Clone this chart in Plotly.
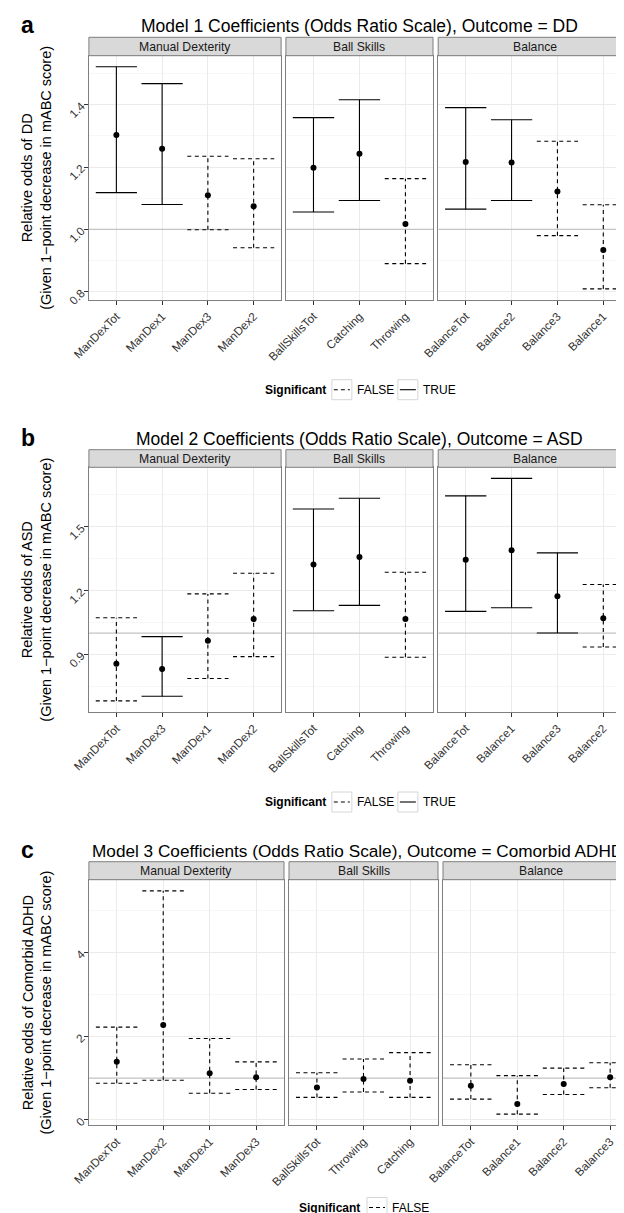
import plotly.graph_objects as go

W, H = 624, 1213
FONT = "Liberation Sans, Arial, Helvetica, sans-serif"

# ---------------- data ----------------
# Panel a: Model 1, Outcome = DD
a_md_cats = ["ManDexTot", "ManDex1", "ManDex3", "ManDex2"]
a_md_or = [1.303, 1.259, 1.110, 1.074]
a_md_lo = [1.118, 1.080, 0.999, 0.941]
a_md_hi = [1.522, 1.468, 1.235, 1.227]
a_md_sig = [True, True, False, False]

a_bs_cats = ["BallSkillsTot", "Catching", "Throwing"]
a_bs_or = [1.198, 1.243, 1.017]
a_bs_lo = [1.056, 1.093, 0.890]
a_bs_hi = [1.359, 1.416, 1.163]
a_bs_sig = [True, True, False]

a_bal_cats = ["BalanceTot", "Balance2", "Balance3", "Balance1"]
a_bal_or = [1.216, 1.215, 1.122, 0.934]
a_bal_lo = [1.065, 1.093, 0.980, 0.809]
a_bal_hi = [1.391, 1.352, 1.283, 1.079]
a_bal_sig = [True, True, False, False]

# Panel b: Model 2, Outcome = ASD
b_md_cats = ["ManDexTot", "ManDex3", "ManDex1", "ManDex2"]
b_md_or = [0.855, 0.831, 0.964, 1.066]
b_md_lo = [0.681, 0.703, 0.786, 0.889]
b_md_hi = [1.072, 0.983, 1.184, 1.281]
b_md_sig = [False, True, False, False]

b_bs_cats = ["BallSkillsTot", "Catching", "Throwing"]
b_bs_or = [1.322, 1.358, 1.066]
b_bs_lo = [1.105, 1.130, 0.886]
b_bs_hi = [1.583, 1.634, 1.286]
b_bs_sig = [True, True, False]

b_bal_cats = ["BalanceTot", "Balance1", "Balance3", "Balance2"]
b_bal_or = [1.345, 1.389, 1.173, 1.069]
b_bal_lo = [1.102, 1.119, 1.000, 0.934]
b_bal_hi = [1.645, 1.727, 1.377, 1.228]
b_bal_sig = [True, True, True, False]

# Panel c: Model 3, Outcome = Comorbid ADHD
c_md_cats = ["ManDexTot", "ManDex2", "ManDex1", "ManDex3"]
c_md_or = [1.39, 2.27, 1.12, 1.02]
c_md_lo = [0.88, 0.95, 0.64, 0.73]
c_md_hi = [2.22, 5.48, 1.95, 1.39]
c_md_sig = [False, False, False, False]

c_bs_cats = ["BallSkillsTot", "Throwing", "Catching"]
c_bs_or = [0.78, 0.98, 0.94]
c_bs_lo = [0.54, 0.67, 0.54]
c_bs_hi = [1.13, 1.46, 1.61]
c_bs_sig = [False, False, False]

c_bal_cats = ["BalanceTot", "Balance1", "Balance2", "Balance3"]
c_bal_or = [0.82, 0.38, 0.86, 1.02]
c_bal_lo = [0.50, 0.14, 0.61, 0.77]
c_bal_hi = [1.32, 1.06, 1.24, 1.37]
c_bal_sig = [False, False, False, False]

facet_names = ["Manual Dexterity", "Ball Skills", "Balance"]

a_yticks = [0.8, 1.0, 1.2, 1.4]
a_yticktext = ["0.8", "1.0", "1.2", "1.4"]
a_yminor = [0.9, 1.1, 1.3, 1.5]
b_yticks = [0.9, 1.2, 1.5]
b_yticktext = ["0.9", "1.2", "1.5"]
b_yminor = [0.75, 1.05, 1.35, 1.65]
c_yticks = [0, 2, 4]
c_yticktext = ["0", "2", "4"]
c_yminor = [1, 3, 5]

# ---------------- layout geometry (pixels) ----------------
rows = [
    dict(letter="a",
         title="Model 1 Coefficients (Odds Ratio Scale), Outcome = DD",
         ylab="Relative odds of DD",
         facets=[(a_md_cats, a_md_or, a_md_lo, a_md_hi, a_md_sig),
                 (a_bs_cats, a_bs_or, a_bs_lo, a_bs_hi, a_bs_sig),
                 (a_bal_cats, a_bal_or, a_bal_lo, a_bal_hi, a_bal_sig)],
         yt=(a_yticks, a_yticktext, a_yminor),
         plot=(47.7, 292.0), strip=29.3, title_y=18.5, legend_y=381.7,
         xdoms=[(80.9, 273.1), (277.9, 425.0), (430.2, 622.8)],
         legend_both=True, title_left=None, title_size=17.5),
    dict(letter="b",
         title="Model 2 Coefficients (Odds Ratio Scale), Outcome = ASD",
         ylab="Relative odds of ASD",
         facets=[(b_md_cats, b_md_or, b_md_lo, b_md_hi, b_md_sig),
                 (b_bs_cats, b_bs_or, b_bs_lo, b_bs_hi, b_bs_sig),
                 (b_bal_cats, b_bal_or, b_bal_lo, b_bal_hi, b_bal_sig)],
         yt=(b_yticks, b_yticktext, b_yminor),
         plot=(459.3, 704.0), strip=441.7, title_y=431.0, legend_y=794.0,
         xdoms=[(80.9, 273.1), (277.9, 425.0), (430.2, 622.8)],
         legend_both=True, title_left=None, title_size=17.5),
    dict(letter="c",
         title="Model 3 Coefficients (Odds Ratio Scale), Outcome = Comorbid ADHD",
         ylab="Relative odds of Comorbid ADHD",
         facets=[(c_md_cats, c_md_or, c_md_lo, c_md_hi, c_md_sig),
                 (c_bs_cats, c_bs_or, c_bs_lo, c_bs_hi, c_bs_sig),
                 (c_bal_cats, c_bal_or, c_bal_lo, c_bal_hi, c_bal_sig)],
         yt=(c_yticks, c_yticktext, c_yminor),
         plot=(871.7, 1117.3), strip=853.7, title_y=843.0, legend_y=1199.5,
         xdoms=[(80.9, 276.0), (281.0, 430.0), (435.0, 630.0)],
         legend_both=False, title_left=82.0, title_size=17.2),
]


def fx(x):
    return x / W


def fy(y):
    return 1 - y / H


GRID_MAJOR = "#EBEBEB"
GRID_MINOR = "#F7F7F7"
BORDER = "#7F7F7F"
TICKCOL = "#333333"

fig = go.Figure()
layout = dict(template="none", width=W, height=H, autosize=False,
              margin=dict(l=0, r=0, t=0, b=0, pad=0),
              paper_bgcolor="white", plot_bgcolor="white",
              showlegend=False, font=dict(family=FONT, color="black"))
shapes = []
annotations = []

for r, row in enumerate(rows):
    ptop, pbot = row["plot"]
    all_lo = [v for f in row["facets"] for v in f[2]]
    all_hi = [v for f in row["facets"] for v in f[3]]
    lo_, hi_ = min(all_lo), max(all_hi)
    pad = (hi_ - lo_) * 0.05
    yrange = [lo_ - pad, hi_ + pad]
    yticks, yticktext, yminor = row["yt"]

    for f, (cats, ors, los, his, sigs) in enumerate(row["facets"]):
        idx = r * 3 + f + 1
        xa = "x" if idx == 1 else f"x{idx}"
        ya = "y" if idx == 1 else f"y{idx}"
        n = len(cats)
        x0p, x1p = row["xdoms"][f]
        xr = [0.4, n + 0.6]
        clipped = False
        if x1p > W:
            unit = (x1p - x0p) / (n + 0.2)
            xr = [0.4, 0.4 + (W - x0p) / unit]
            x1p = W
            clipped = True
        xs = list(range(1, n + 1))

        # reference line at 1
        fig.add_trace(go.Scatter(x=[0.4, n + 0.6], y=[1, 1], mode="lines",
                                 line=dict(color="#C4C4C4", width=1.3),
                                 hoverinfo="skip", xaxis=xa, yaxis=ya))
        for want_sig, dash in ((False, "4px,3.5px"), (True, "solid")):
            ex, ey = [], []
            for xi, lo, hi, s in zip(xs, los, his, sigs):
                if s != want_sig:
                    continue
                ex += [xi, xi, None, xi - 0.45, xi + 0.45, None, xi - 0.45, xi + 0.45, None]
                ey += [lo, hi, None, hi, hi, None, lo, lo, None]
            if ex:
                fig.add_trace(go.Scatter(x=ex, y=ey, mode="lines",
                                         line=dict(color="black", width=1.1, dash=dash),
                                         hoverinfo="skip", xaxis=xa, yaxis=ya))
        fig.add_trace(go.Scatter(x=xs, y=ors, mode="markers",
                                 marker=dict(color="black", size=6, line=dict(width=0)),
                                 xaxis=xa, yaxis=ya))

        key = "xaxis" if idx == 1 else f"xaxis{idx}"
        ykey = "yaxis" if idx == 1 else f"yaxis{idx}"
        layout[key] = dict(domain=[fx(x0p), fx(x1p)], anchor=ya, range=xr,
                           automargin=False,
                           tickmode="array", tickvals=xs, ticktext=cats,
                           tickangle=-45, ticks="outside", ticklen=4,
                           tickcolor=TICKCOL, tickwidth=1,
                           tickfont=dict(family=FONT, size=11.7, color=TICKCOL),
                           showgrid=True, gridcolor=GRID_MAJOR, gridwidth=1,
                           zeroline=False, showline=True, mirror=True,
                           linecolor=BORDER, linewidth=1, fixedrange=True)
        first = (f == 0)
        layout[ykey] = dict(domain=[fy(pbot), fy(ptop)], anchor=xa, range=yrange,
                            automargin=False,
                            tickmode="array", tickvals=yticks, ticktext=yticktext,
                            tickangle=-45, ticks="outside" if first else "",
                            ticklen=4, tickcolor=TICKCOL, tickwidth=1,
                            showticklabels=first,
                            tickfont=dict(family=FONT, size=11.7, color=TICKCOL),
                            showgrid=True, gridcolor=GRID_MAJOR, gridwidth=1,
                            minor=dict(tickmode="array", tickvals=yminor, showgrid=True,
                                       gridcolor=GRID_MINOR, gridwidth=1, ticks=""),
                            zeroline=False, showline=True, mirror=not clipped,
                            linecolor=BORDER, linewidth=1, fixedrange=True)

        # strip
        shapes.append(dict(type="rect", xref="paper", yref="paper",
                           x0=fx(x0p), x1=fx(x1p + (3 if clipped else 0)),
                           y0=fy(ptop), y1=fy(row["strip"]),
                           fillcolor="#D9D9D9", line=dict(color=BORDER, width=1),
                           layer="above"))
        sx = (x0p + row["xdoms"][f][1]) / 2
        annotations.append(dict(text=facet_names[f], xref="paper", yref="paper",
                                x=fx(sx), y=fy((ptop + row["strip"]) / 2),
                                xanchor="center", yanchor="middle", showarrow=False,
                                font=dict(family=FONT, size=12.2, color="#1A1A1A")))

    # plot-level texts
    xl = row["xdoms"][0][0]
    xr_ = row["xdoms"][2][1]
    cx = (xl + xr_) / 2
    if row["title_left"] is None:
        tx, tanchor = cx, "center"
    else:
        tx, tanchor = row["title_left"], "left"
    annotations.append(dict(text=row["title"], xref="paper", yref="paper",
                            x=fx(tx), y=fy(row["title_y"]), xanchor=tanchor,
                            yanchor="middle", showarrow=False,
                            font=dict(family=FONT, size=row["title_size"], color="black")))
    annotations.append(dict(text="<b>" + row["letter"] + "</b>", xref="paper", yref="paper",
                            x=fx(11), y=fy(row["title_y"] - 1), xanchor="left",
                            yanchor="middle", showarrow=False,
                            font=dict(family=FONT, size=23, color="black")))
    annotations.append(dict(text=row["ylab"] + "<br>(Given 1\u2212point decrease in mABC score)",
                            xref="paper", yref="paper", x=fx(29), y=fy((ptop + pbot) / 2),
                            xanchor="center", yanchor="middle", textangle=-90,
                            showarrow=False,
                            font=dict(family=FONT, size=14.5, color="black")))

    # legend (drawn manually, per panel)
    ly = row["legend_y"]
    if row["legend_both"]:
        lc = cx
        items = [("FALSE", "4px,3px", lc - 28), ("TRUE", "solid", lc + 38)]
        title_right = lc - 32
    else:
        lc = 355.5
        items = [("FALSE", "4px,3px", lc + 3.5)]
        title_right = lc - 2
    annotations.append(dict(text="<b>Significant</b>", xref="paper", yref="paper",
                            x=fx(title_right), y=fy(ly), xanchor="right", yanchor="middle",
                            showarrow=False, font=dict(family=FONT, size=12, color="black")))
    for label, dash, bx in items:
        shapes.append(dict(type="rect", xref="paper", yref="paper",
                           x0=fx(bx), x1=fx(bx + 20), y0=fy(ly + 10), y1=fy(ly - 10),
                           fillcolor="white", line=dict(color="#D6D6D6", width=1)))
        shapes.append(dict(type="line", xref="paper", yref="paper",
                           x0=fx(bx + 2), x1=fx(bx + 18), y0=fy(ly), y1=fy(ly),
                           line=dict(color="black", width=1.1, dash=dash)))
        annotations.append(dict(text=label, xref="paper", yref="paper",
                                x=fx(bx + 23), y=fy(ly), xanchor="left", yanchor="middle",
                                showarrow=False,
                                font=dict(family=FONT, size=12, color="black")))

layout["shapes"] = shapes
layout["annotations"] = annotations
fig.update_layout(**layout)
fig.write_html("out.html")
